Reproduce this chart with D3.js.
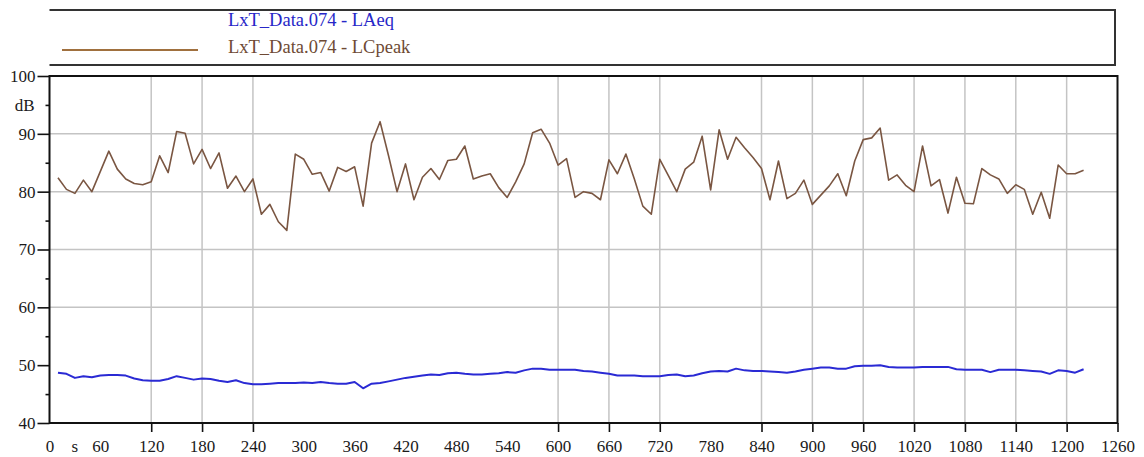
<!DOCTYPE html>
<html>
<head>
<meta charset="utf-8">
<script src="https://cdn.jsdelivr.net/npm/d3@7/dist/d3.min.js"></script>
<style>
  html, body { margin: 0; padding: 0; background: #fff; }
  svg { display: block; }
  text { font-family: "Liberation Serif", "DejaVu Serif", serif; }
</style>
</head>
<body>
<svg id="chart" width="1144" height="457"></svg>
<script>
// ---- data ----
const times = d3.range(10, 1221, 10); // seconds
const lcpeak = [
  82.4, 80.4, 79.7, 82.0, 80.0, 83.5, 87.0, 83.9, 82.2, 81.4,
  81.2, 81.7, 86.2, 83.3, 90.4, 90.1, 84.8, 87.3, 84.0, 86.7,
  80.6, 82.7, 80.0, 82.2, 76.1, 77.8, 74.8, 73.3, 86.5, 85.6,
  83.0, 83.3, 80.1, 84.2, 83.5, 84.3, 77.5, 88.4, 92.1, 86.2,
  80.0, 84.8, 78.6, 82.5, 84.0, 82.1, 85.4, 85.6, 87.9, 82.2,
  82.7, 83.1, 80.7, 79.0, 81.7, 84.8, 90.2, 90.8, 88.4, 84.6,
  85.7, 79.0, 80.0, 79.7, 78.6, 85.5, 83.1, 86.5, 82.2, 77.5,
  76.1, 85.6, 82.8, 80.0, 83.9, 85.1, 89.6, 80.3, 90.7, 85.6,
  89.4, 87.6, 85.9, 84.0, 78.6, 85.3, 78.8, 79.7, 82.0, 77.8,
  79.4, 81.0, 83.1, 79.3, 85.3, 89.0, 89.3, 91.0, 82.0, 82.9,
  81.1, 80.0, 87.9, 81.0, 82.1, 76.3, 82.5, 78.0, 77.9, 84.0,
  82.9, 82.2, 79.7, 81.2, 80.4, 76.1, 79.9, 75.4, 84.6, 83.1,
  83.1, 83.7
];
const laeq = [
  48.7, 48.5, 47.8, 48.1, 47.9, 48.2, 48.3, 48.3, 48.2, 47.7,
  47.4, 47.3, 47.3, 47.6, 48.1, 47.8, 47.5, 47.7, 47.6, 47.3,
  47.1, 47.4, 46.9, 46.7, 46.7, 46.8, 46.9, 46.9, 46.9, 47.0,
  46.9, 47.1, 46.9, 46.8, 46.8, 47.1, 46.0, 46.8, 46.9, 47.2,
  47.5, 47.8, 48.0, 48.2, 48.4, 48.3, 48.6, 48.7, 48.5, 48.4,
  48.4, 48.5, 48.6, 48.8, 48.7, 49.1, 49.4, 49.4, 49.2, 49.2,
  49.2, 49.2, 49.0, 48.9, 48.7, 48.5, 48.2, 48.2, 48.2, 48.1,
  48.1, 48.1, 48.3, 48.4, 48.1, 48.2, 48.6, 48.9, 49.0, 48.9,
  49.4, 49.1, 49.0, 49.0, 48.9, 48.8, 48.7, 48.9, 49.2, 49.4,
  49.6, 49.6, 49.4, 49.4, 49.8, 49.9, 49.9, 50.0, 49.7, 49.6,
  49.6, 49.6, 49.7, 49.7, 49.7, 49.7, 49.3, 49.2, 49.2, 49.2,
  48.8, 49.2, 49.2, 49.2, 49.1, 49.0, 48.9, 48.5, 49.1, 49.0,
  48.7, 49.3
];
const xTickLabels = d3.range(0, 1261, 60);
const xGridTicks = [120, 180, 240, 600, 660, 720, 840, 900, 960, 1020, 1080, 1140, 1200];
const yMajorTicks = [40, 50, 60, 70, 80, 90, 100];
const yMinorTicks = [45, 55, 65, 75, 85, 95];
const yGridTicks = [60, 70, 80, 90];
const legendLabels = ["LxT_Data.074 - LAeq", "LxT_Data.074 - LCpeak"];
const xUnit = "s";
const yUnit = "dB";

// ---- layout ----
(function () {
const svg = d3.select("#chart");
const pL = 49.5, pR = 1117.5, pT = 76, pB = 423;
const x = d3.scaleLinear().domain([0, 1260]).range([pL, pR]);
const y = d3.scaleLinear().domain([40, 100]).range([pB, pT]);

const gridColor = "#c4c4c4";
const brown = "#7a5642";
const blue = "#2a2ad4";

// legend box
const lg = svg.append("g");
lg.append("path")
  .attr("d", `M${pL},10 H1115 V65 H${pL}`)
  .attr("fill", "none").attr("stroke", "#333").attr("stroke-width", 2);
lg.append("text").attr("x", 228).attr("y", 26)
  .attr("font-size", 18.5).attr("fill", "#2727c8").text(legendLabels[0]);
lg.append("line").attr("x1", 62).attr("x2", 198).attr("y1", 50).attr("y2", 50)
  .attr("stroke", "#a0703e").attr("stroke-width", 2);
lg.append("text").attr("x", 228).attr("y", 53)
  .attr("font-size", 18.5).attr("fill", "#6e4a34").text(legendLabels[1]);

// gridlines
svg.append("g").selectAll("line").data(yGridTicks).join("line")
  .attr("x1", pL).attr("x2", pR)
  .attr("y1", d => y(d)).attr("y2", d => y(d))
  .attr("stroke", gridColor).attr("stroke-width", 1.5);
svg.append("g").selectAll("line").data(xGridTicks).join("line")
  .attr("x1", d => x(d)).attr("x2", d => x(d))
  .attr("y1", pT).attr("y2", pB)
  .attr("stroke", gridColor).attr("stroke-width", 1.5);

// series
const line = d3.line().x(d => x(d[0])).y(d => y(d[1]));
svg.append("path")
  .datum(times.map((t, i) => [t, lcpeak[i]]))
  .attr("d", line).attr("fill", "none")
  .attr("stroke", brown).attr("stroke-width", 1.6).attr("stroke-linejoin", "round");
svg.append("path")
  .datum(times.map((t, i) => [t, laeq[i]]))
  .attr("d", line).attr("fill", "none")
  .attr("stroke", blue).attr("stroke-width", 2).attr("stroke-linejoin", "round");

// frame
svg.append("rect").attr("x", pL).attr("y", pT)
  .attr("width", pR - pL).attr("height", pB - pT)
  .attr("fill", "none").attr("stroke", "#111").attr("stroke-width", 2);

// y axis
const yAxis = svg.append("g").attr("transform", `translate(${pL},0)`)
  .call(d3.axisLeft(y).tickValues(yMajorTicks).tickSize(12).tickPadding(2).tickFormat(d3.format("d")));
const yMinor = svg.append("g").attr("transform", `translate(${pL},0)`)
  .call(d3.axisLeft(y).tickValues(yMinorTicks).tickSize(4).tickPadding(3)
    .tickFormat(d => d === 95 ? yUnit : ""));
[yAxis, yMinor].forEach(g => {
  g.select(".domain").remove();
  g.selectAll(".tick line").attr("stroke", "#111").attr("stroke-width", 1.6);
  g.selectAll(".tick text").attr("font-size", 17).attr("fill", "#1a1a1a")
    .attr("font-family", "Liberation Serif, serif");
});
yMinor.selectAll(".tick text").attr("dx", -8);

// x axis
const xTickG = svg.append("g").attr("transform", `translate(0,${pB})`)
  .call(d3.axisBottom(x).tickValues(xGridTicks.concat([1260])).tickSize(9).tickFormat(""));
xTickG.select(".domain").remove();
xTickG.selectAll(".tick line").attr("stroke", "#111").attr("stroke-width", 1.6);

const xLab = svg.append("g").attr("transform", `translate(0,${pB})`)
  .call(d3.axisBottom(x).tickValues(xTickLabels).tickSize(0).tickPadding(17).tickFormat(d3.format("d")));
xLab.select(".domain").remove();
xLab.selectAll(".tick text").attr("font-size", 17).attr("fill", "#1a1a1a")
  .attr("font-family", "Liberation Serif, serif");

svg.append("text").attr("x", x(30)).attr("y", 452).attr("text-anchor", "middle")
  .attr("font-size", 17).attr("fill", "#1a1a1a").text(xUnit);
})();
</script>
</body>
</html>
